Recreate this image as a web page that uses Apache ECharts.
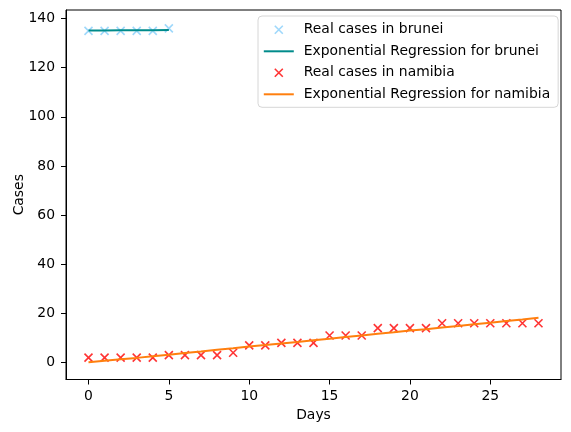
<!DOCTYPE html>
<html>

<head>
  <meta charset="utf-8">
  <title>Exponential Regression</title>
  <script src="https://cdn.jsdelivr.net/npm/echarts@6.0.0/dist/echarts.min.js"></script>
  <style>
    html, body { margin: 0; padding: 0; background: #fff; }
  </style>
</head>

<body>
  <div id="main" style="width: 571px;height:432px;"></div>
  <script type="text/javascript">
    // values
    var bruneiDays = [0, 1, 2, 3, 4, 5]
    var bruneiCases = [135, 135, 135, 135, 135, 136]
    var bruneiFit = [135.2, 135.2, 135.3, 135.3, 135.3, 135.4]

    var namibiaDays = [0, 1, 2, 3, 4, 5, 6, 7, 8, 9, 10, 11, 12, 13, 14, 15, 16, 17, 18, 19, 20, 21, 22, 23, 24, 25, 26, 27, 28]
    var namibiaCases = [2, 2, 2, 2, 2, 3, 3, 3, 3, 4, 7, 7, 8, 8, 8, 11, 11, 11, 14, 14, 14, 14, 16, 16, 16, 16, 16, 16, 16]
    var namibiaFit = [0.1, 0.7, 1.3, 1.9, 2.6, 3.2, 3.9, 4.5, 5.2, 5.8, 6.5, 7.1, 7.8, 8.4, 9.1, 9.7,
      10.4, 11.0, 11.7, 12.3, 13.0, 13.6, 14.3, 14.9, 15.6, 16.2, 16.9, 17.5, 18.2]

    var xTicks = [0, 5, 10, 15, 20, 25]
    var yTicks = [0, 20, 40, 60, 80, 100, 120, 140]

    var names = ['Real cases in brunei', 'Exponential Regression for brunei',
      'Real cases in namibia', 'Exponential Regression for namibia']

    function pairs(xs, ys) {
      return xs.map(function (x, i) { return [x, ys[i]] })
    }

    // cross marker, like matplotlib 'x'
    var cross = 'path://M0,0L10,10M10,0L0,10'
    // legend icons, padded to the 30x14 legend box so they are not stretched
    var crossIcon = 'path://M0,0M30,14M11,3L19,11M19,3L11,11'
    var lineIcon = 'path://M0,0M30,14M0,6L30,6L30,8L0,8Z'

    var font = 'DejaVu Sans'
    var fs = 13.9

    var myChart = echarts.init(document.getElementById('main'))
    myChart.setOption({
      animation: false,
      backgroundColor: '#fff',
      textStyle: { fontFamily: font },
      grid: {
        left: 66, right: 10, top: 10, bottom: 52.5,
        outerBoundsMode: 'none',
        show: true, borderColor: '#000', borderWidth: 1
      },
      legend: {
        orient: 'vertical',
        left: 258, top: 16,
        padding: [6, 8, 6, 5],
        itemWidth: 30, itemHeight: 14, itemGap: 6.7,
        backgroundColor: 'rgba(255,255,255,0.8)',
        borderColor: '#d6d6d6', borderWidth: 1, borderRadius: 4,
        textStyle: { fontFamily: font, fontSize: fs, color: '#000', padding: [0, 0, 0, 5] },
        data: [
          { name: names[0], icon: crossIcon, itemStyle: { color: '#87cefa', borderColor: '#87cefa', borderWidth: 1.6 } },
          { name: names[1], icon: lineIcon, itemStyle: { color: '#008b8b', borderWidth: 0 } },
          { name: names[2], icon: crossIcon, itemStyle: { color: '#ff0000', borderColor: '#ff0000', borderWidth: 1.6 } },
          { name: names[3], icon: lineIcon, itemStyle: { color: '#ff7f0e', borderWidth: 0 } }
        ]
      },
      xAxis: {
        type: 'value',
        min: -1.4, max: 29.4,
        name: 'Days', nameLocation: 'middle', nameGap: 29, nameMoveOverlap: false,
        nameTextStyle: { fontFamily: font, fontSize: fs, color: '#000' },
        splitLine: { show: false },
        axisLine: { show: true, onZero: false, lineStyle: { color: '#000', width: 1 } },
        axisTick: { show: true, length: 5, lineStyle: { color: '#000' }, customValues: xTicks },
        axisLabel: { fontFamily: font, fontSize: fs, color: '#000', margin: 10, customValues: xTicks }
      },
      yAxis: {
        type: 'value',
        min: -6.9, max: 143.5,
        name: 'Cases', nameLocation: 'middle', nameGap: 40, nameMoveOverlap: false,
        nameTextStyle: { fontFamily: font, fontSize: fs, color: '#000' },
        splitLine: { show: false },
        axisLine: { show: true, onZero: false, lineStyle: { color: '#000', width: 1 } },
        axisTick: { show: true, length: 5, lineStyle: { color: '#000' }, customValues: yTicks },
        axisLabel: { fontFamily: font, fontSize: fs, color: '#000', margin: 11, customValues: yTicks }
      },
      series: [{
          name: names[0],
          type: 'scatter',
          symbol: cross,
          symbolSize: 8,
          itemStyle: { color: '#87cefa', borderColor: '#87cefa', borderWidth: 1.6 },
          data: pairs(bruneiDays, bruneiCases),
          z: 2
        },
        {
          name: names[1],
          type: 'line',
          symbol: 'none',
          lineStyle: { color: '#008b8b', width: 2 },
          itemStyle: { color: '#008b8b' },
          data: pairs(bruneiDays, bruneiFit),
          z: 3
        },
        {
          name: names[2],
          type: 'scatter',
          symbol: cross,
          symbolSize: 8,
          itemStyle: { color: '#ff0000', borderColor: '#ff0000', borderWidth: 1.6 },
          data: pairs(namibiaDays, namibiaCases),
          z: 4
        },
        {
          name: names[3],
          type: 'line',
          symbol: 'none',
          lineStyle: { color: '#ff7f0e', width: 2 },
          itemStyle: { color: '#ff7f0e' },
          data: pairs(namibiaDays, namibiaFit),
          z: 5
        }
      ]
    })
  </script>
</body>

</html>
